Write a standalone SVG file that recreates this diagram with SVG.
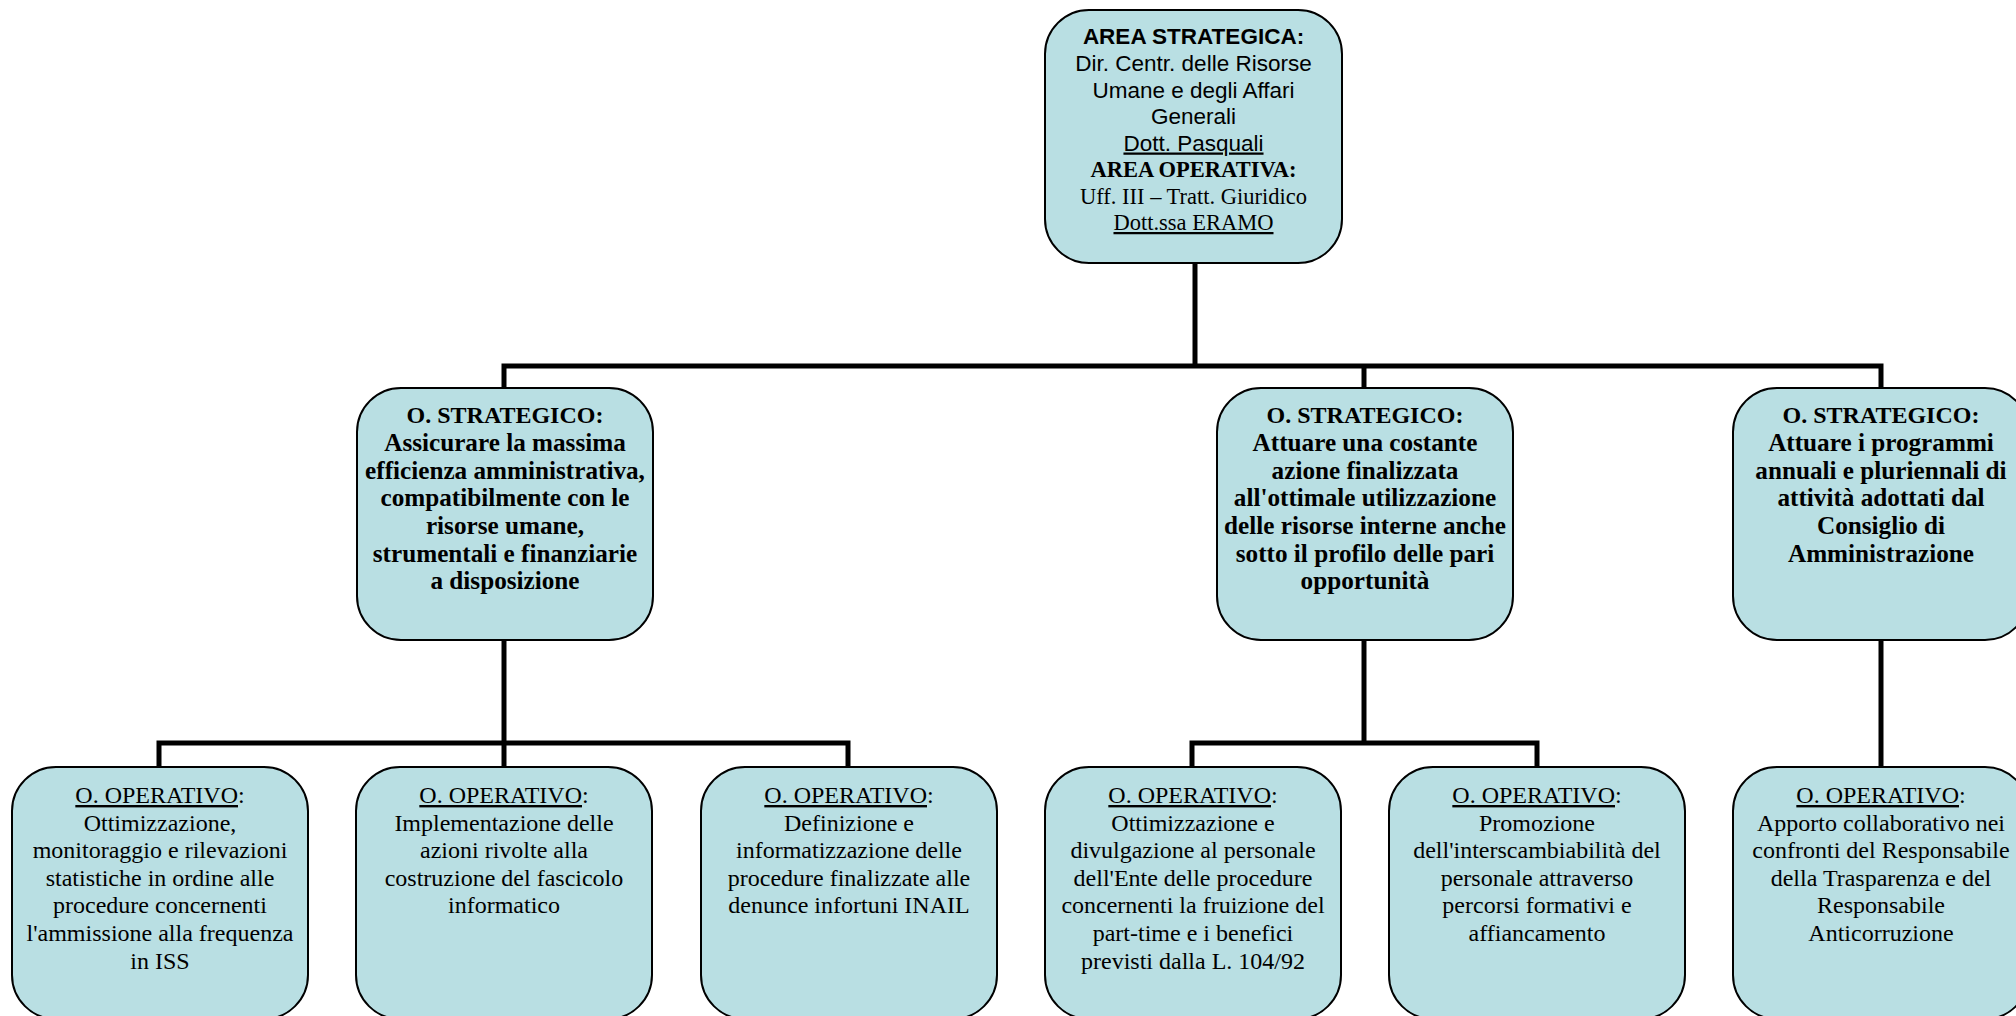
<svg xmlns="http://www.w3.org/2000/svg" width="2016" height="1016" viewBox="0 0 2016 1016">
<style>
.box{fill:#b9dfe3;stroke:#000;stroke-width:2}
.conn{fill:none;stroke:#000;stroke-width:5;stroke-linejoin:miter;stroke-linecap:butt}
.ar{font-family:"Liberation Sans",Arial,sans-serif;font-size:22.5px;fill:#000;text-anchor:middle}
.tr{font-family:"Liberation Serif","Times New Roman",serif;font-size:22.5px;fill:#000;text-anchor:middle}
.sb{font-family:"Liberation Serif","Times New Roman",serif;font-size:25.2px;font-weight:bold;fill:#000;text-anchor:middle}
.sh{font-size:24px}
.op{font-family:"Liberation Serif","Times New Roman",serif;font-size:24px;fill:#000;text-anchor:middle}
.b{font-weight:bold}
.u{text-decoration:underline}
</style>
<rect width="2016" height="1016" fill="#fff"/>
<g id="connectors">
<path class="conn" d="M1195 263 V366"/>
<path class="conn" d="M504 388 V366 H1881 V388"/>
<path class="conn" d="M1364 366 V388"/>
<path class="conn" d="M504 640 V743"/>
<path class="conn" d="M159 767 V743 H848 V767"/>
<path class="conn" d="M504 743 V767"/>
<path class="conn" d="M1364 640 V743"/>
<path class="conn" d="M1192 767 V743 H1537 V767"/>
<path class="conn" d="M1881 640 V767"/>
</g>
<g id="area-strategica">
<rect class="box" x="1045" y="10" width="297" height="253" rx="44" ry="44"/>
<text class="ar" x="1193.5" y="44"><tspan class="b">AREA STRATEGICA:</tspan></text>
<text class="ar" x="1193.5" y="71">Dir. Centr. delle Risorse</text>
<text class="ar" x="1193.5" y="97.5">Umane e degli Affari</text>
<text class="ar" x="1193.5" y="124">Generali</text>
<text class="ar" x="1193.5" y="150.5"><tspan class="u">Dott. Pasquali</tspan></text>
<text class="tr b" x="1193.5" y="177">AREA OPERATIVA:</text>
<text class="tr" x="1193.5" y="203.5">Uff. III – Tratt. Giuridico</text>
<text class="tr" x="1193.5" y="230"><tspan class="u">Dott.ssa ERAMO</tspan></text>
</g>
<g id="strategico-1">
<rect class="box" x="357" y="388" width="296" height="252" rx="44" ry="44"/>
<text class="sb sh" x="505" y="423">O. STRATEGICO:</text>
<text class="sb" x="505" y="451">Assicurare la massima</text>
<text class="sb" x="505" y="478.5">efficienza amministrativa,</text>
<text class="sb" x="505" y="506">compatibilmente con le</text>
<text class="sb" x="505" y="534">risorse umane,</text>
<text class="sb" x="505" y="561.5">strumentali e finanziarie</text>
<text class="sb" x="505" y="589">a disposizione</text>
</g>
<g id="strategico-2">
<rect class="box" x="1217" y="388" width="296" height="252" rx="44" ry="44"/>
<text class="sb sh" x="1365" y="423">O. STRATEGICO:</text>
<text class="sb" x="1365" y="451">Attuare una costante</text>
<text class="sb" x="1365" y="478.5">azione finalizzata</text>
<text class="sb" x="1365" y="506">all'ottimale utilizzazione</text>
<text class="sb" x="1365" y="534">delle risorse interne anche</text>
<text class="sb" x="1365" y="561.5">sotto il profilo delle pari</text>
<text class="sb" x="1365" y="589">opportunità</text>
</g>
<g id="strategico-3">
<rect class="box" x="1733" y="388" width="296" height="252" rx="44" ry="44"/>
<text class="sb sh" x="1881" y="423">O. STRATEGICO:</text>
<text class="sb" x="1881" y="451">Attuare i programmi</text>
<text class="sb" x="1881" y="478.5">annuali e pluriennali di</text>
<text class="sb" x="1881" y="506">attività adottati dal</text>
<text class="sb" x="1881" y="534">Consiglio di</text>
<text class="sb" x="1881" y="561.5">Amministrazione</text>
</g>
<g id="operativo-1">
<rect class="box" x="12" y="767" width="296" height="252" rx="44" ry="44"/>
<text class="op" x="160" y="803"><tspan class="u">O. OPERATIVO</tspan>:</text>
<text class="op" x="160" y="830.6">Ottimizzazione,</text>
<text class="op" x="160" y="858.2">monitoraggio e rilevazioni</text>
<text class="op" x="160" y="885.8">statistiche in ordine alle</text>
<text class="op" x="160" y="913.4">procedure concernenti</text>
<text class="op" x="160" y="941">l'ammissione alla frequenza</text>
<text class="op" x="160" y="968.6">in ISS</text>
</g>
<g id="operativo-2">
<rect class="box" x="356" y="767" width="296" height="252" rx="44" ry="44"/>
<text class="op" x="504" y="803"><tspan class="u">O. OPERATIVO</tspan>:</text>
<text class="op" x="504" y="830.6">Implementazione delle</text>
<text class="op" x="504" y="858.2">azioni rivolte alla</text>
<text class="op" x="504" y="885.8">costruzione del fascicolo</text>
<text class="op" x="504" y="913.4">informatico</text>
</g>
<g id="operativo-3">
<rect class="box" x="701" y="767" width="296" height="252" rx="44" ry="44"/>
<text class="op" x="849" y="803"><tspan class="u">O. OPERATIVO</tspan>:</text>
<text class="op" x="849" y="830.6">Definizione e</text>
<text class="op" x="849" y="858.2">informatizzazione delle</text>
<text class="op" x="849" y="885.8">procedure finalizzate alle</text>
<text class="op" x="849" y="913.4">denunce infortuni INAIL</text>
</g>
<g id="operativo-4">
<rect class="box" x="1045" y="767" width="296" height="252" rx="44" ry="44"/>
<text class="op" x="1193" y="803"><tspan class="u">O. OPERATIVO</tspan>:</text>
<text class="op" x="1193" y="830.6">Ottimizzazione e</text>
<text class="op" x="1193" y="858.2">divulgazione al personale</text>
<text class="op" x="1193" y="885.8">dell'Ente delle procedure</text>
<text class="op" x="1193" y="913.4">concernenti la fruizione del</text>
<text class="op" x="1193" y="941">part-time e i benefici</text>
<text class="op" x="1193" y="968.6">previsti dalla L. 104/92</text>
</g>
<g id="operativo-5">
<rect class="box" x="1389" y="767" width="296" height="252" rx="44" ry="44"/>
<text class="op" x="1537" y="803"><tspan class="u">O. OPERATIVO</tspan>:</text>
<text class="op" x="1537" y="830.6">Promozione</text>
<text class="op" x="1537" y="858.2">dell'interscambiabilità del</text>
<text class="op" x="1537" y="885.8">personale attraverso</text>
<text class="op" x="1537" y="913.4">percorsi formativi e</text>
<text class="op" x="1537" y="941">affiancamento</text>
</g>
<g id="operativo-6">
<rect class="box" x="1733" y="767" width="296" height="252" rx="44" ry="44"/>
<text class="op" x="1881" y="803"><tspan class="u">O. OPERATIVO</tspan>:</text>
<text class="op" x="1881" y="830.6">Apporto collaborativo nei</text>
<text class="op" x="1881" y="858.2">confronti del Responsabile</text>
<text class="op" x="1881" y="885.8">della Trasparenza e del</text>
<text class="op" x="1881" y="913.4">Responsabile</text>
<text class="op" x="1881" y="941">Anticorruzione</text>
</g>
</svg>
